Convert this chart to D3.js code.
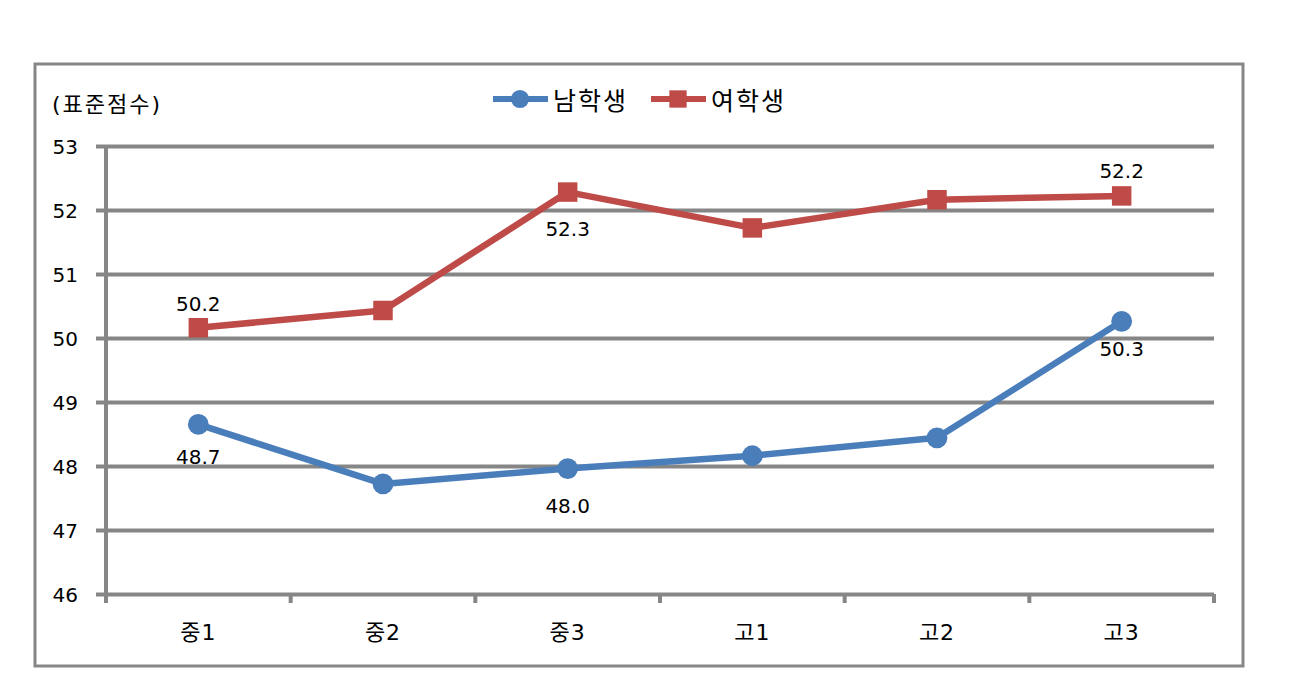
<!DOCTYPE html>
<html>
<head>
<meta charset="utf-8">
<script src="https://cdn.jsdelivr.net/npm/d3@7"></script>
<style>
  body { margin: 0; background: #fff; }
  text { font-family: "DejaVu Sans", "Noto Sans CJK KR", sans-serif; fill: #000; }
</style>
</head>
<body>
<div id="chart"></div>
<script>
// categories and series values (standard score)
const grades = ["중1", "중2", "중3", "고1", "고2", "고3"];
const boys = [48.65, 47.72, 47.96, 48.16, 48.44, 50.26];
const girls = [50.16, 50.43, 52.28, 51.72, 52.16, 52.22];
const yTicks = [46, 47, 48, 49, 50, 51, 52, 53];
const seriesNames = ["남학생", "여학생"];
// labelled points: [series index, category index, text]
const labels = [
  [1, 0, "50.2"],
  [1, 2, "52.3"],
  [1, 5, "52.2"],
  [0, 0, "48.7"],
  [0, 2, "48.0"],
  [0, 5, "50.3"]
];
// vertical shift of each label's baseline from its point
const labelShift = [-17, 44, -18, 40, 44, 35];

const W = 1305, H = 685;
const margin = {top: 146, left: 106, right: W - 1214, bottom: H - 594};
const blue = "#4a7ebb", red = "#be4b48", grid = "#868686";

const svg = d3.select("#chart").append("svg")
  .attr("width", W).attr("height", H);

// outer frame
svg.append("rect")
  .attr("x", 35).attr("y", 64)
  .attr("width", 1208).attr("height", 602)
  .attr("fill", "#fff").attr("stroke", grid).attr("stroke-width", 3);

const x = d3.scaleBand()
  .domain(grades)
  .range([margin.left, W - margin.right]);

const y = d3.scaleLinear()
  .domain([46, 53])
  .range([H - margin.bottom, margin.top]);

// gridlines with left tick stubs
const yAxis = svg.append("g")
  .attr("transform", `translate(${margin.left},0)`)
  .call(d3.axisLeft(y).tickValues(yTicks).tickSize(10).tickFormat(d3.format("d")));
yAxis.select(".domain").remove();
yAxis.selectAll(".tick line").attr("stroke", grid).attr("stroke-width", 4);
yAxis.selectAll(".tick text").attr("x", -28).attr("text-anchor", "end")
  .attr("dy", "0.36em")
  .style("font-size", "20px")
  .style("font-family", "DejaVu Sans");
yAxis.selectAll(".tick").append("line")
  .attr("x1", 0).attr("x2", W - margin.right - margin.left)
  .attr("stroke", grid).attr("stroke-width", 4);

// y axis line
svg.append("line")
  .attr("x1", margin.left).attr("x2", margin.left)
  .attr("y1", y(53)).attr("y2", y(46) + 2)
  .attr("stroke", grid).attr("stroke-width", 4);

// x axis ticks at band edges
const edges = grades.map(g => x(g)).concat([x.range()[1]]);
svg.append("g").selectAll("line")
  .data(edges).enter().append("line")
  .attr("x1", d => d).attr("x2", d => d)
  .attr("y1", y(46)).attr("y2", y(46) + 9)
  .attr("stroke", grid).attr("stroke-width", 4);

svg.append("g").selectAll("text")
  .data(grades).enter().append("text")
  .attr("x", d => x(d) + x.bandwidth() / 2)
  .attr("y", y(46) + 46)
  .attr("text-anchor", "middle")
  .style("font-size", "22px")
  .style("letter-spacing", "1px")
  .text(d => d);

// axis title
svg.append("text")
  .attr("x", 52).attr("y", 112)
  .style("font-size", "22px")
  .style("letter-spacing", "2px")
  .text("(표준점수)");

const cx = i => x(grades[i]) + x.bandwidth() / 2;
const line = d3.line().x((d, i) => cx(i)).y(d => y(d));

function drawSeries(values, color, shape) {
  svg.append("path")
    .datum(values)
    .attr("fill", "none")
    .attr("stroke", color)
    .attr("stroke-width", 6.5)
    .attr("stroke-linejoin", "round")
    .attr("d", line);
  const sym = d3.symbol().type(shape).size(shape === d3.symbolSquare ? 380 : 340);
  svg.append("g").selectAll("path")
    .data(values).enter().append("path")
    .attr("transform", (d, i) => `translate(${cx(i)},${y(d)})`)
    .attr("d", sym)
    .attr("fill", color);
}

drawSeries(boys, blue, d3.symbolCircle);
drawSeries(girls, red, d3.symbolSquare);

// data labels
const series = [boys, girls];
svg.append("g").selectAll("text")
  .data(labels).enter().append("text")
  .attr("x", d => cx(d[1]))
  .attr("y", (d, i) => y(series[d[0]][d[1]]) + labelShift[i])
  .attr("text-anchor", "middle")
  .style("font-size", "20px")
  .text(d => d[2]);

// legend
const legend = svg.append("g");
const legendItems = [
  {name: seriesNames[0], color: blue, shape: d3.symbolCircle, x0: 493},
  {name: seriesNames[1], color: red, shape: d3.symbolSquare, x0: 651}
];
legendItems.forEach(it => {
  legend.append("line")
    .attr("x1", it.x0).attr("x2", it.x0 + 55)
    .attr("y1", 99).attr("y2", 99)
    .attr("stroke", it.color).attr("stroke-width", 6);
  legend.append("path")
    .attr("transform", `translate(${it.x0 + 27},99)`)
    .attr("d", d3.symbol().type(it.shape).size(it.shape === d3.symbolSquare ? 300 : 260)())
    .attr("fill", it.color);
  legend.append("text")
    .attr("x", it.x0 + 60).attr("y", 110)
    .style("font-size", "25px")
    .style("letter-spacing", "2px")
    .text(it.name);
});
</script>
</body>
</html>
